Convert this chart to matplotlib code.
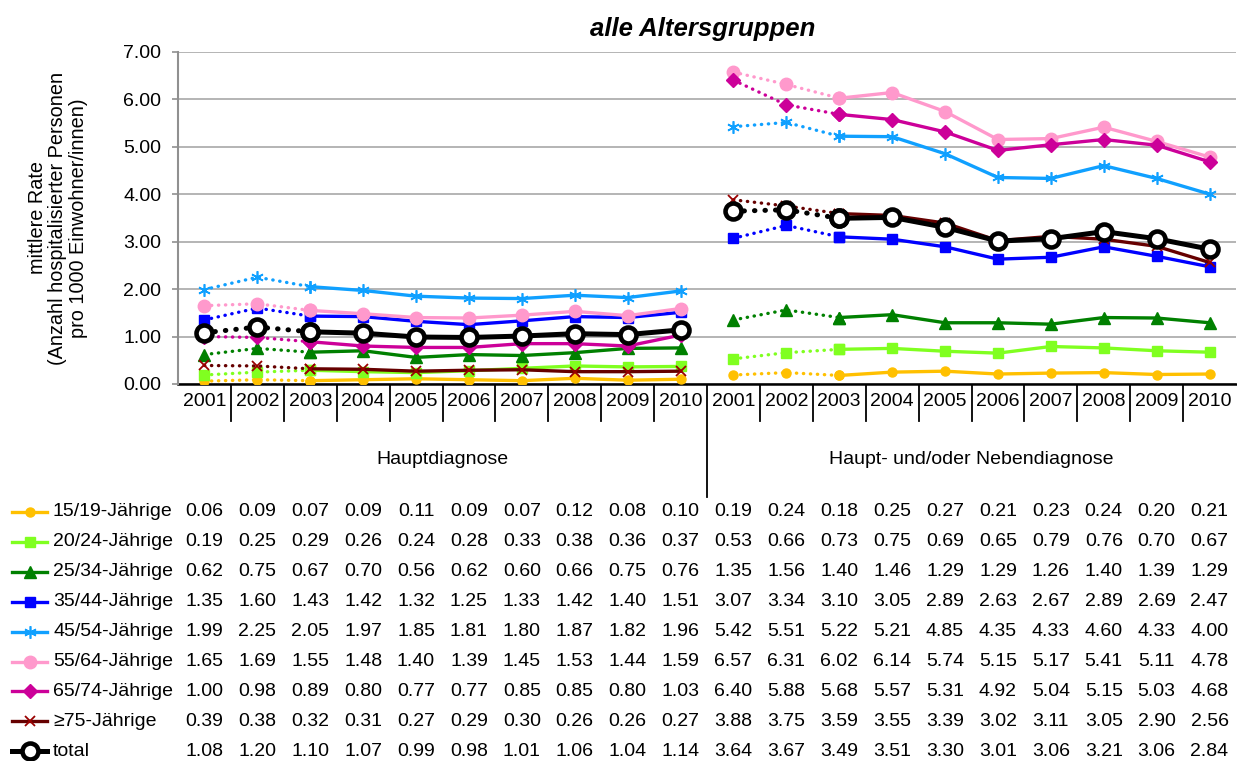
import matplotlib
matplotlib.use("Agg")
import matplotlib.pyplot as plt
import matplotlib.transforms as mtransforms
from matplotlib.lines import Line2D

plt.rcParams['font.family'] = ['Liberation Sans', 'DejaVu Sans']

# data
years = ['2001', '2002', '2003', '2004', '2005', '2006', '2007', '2008', '2009', '2010']
groups = ['Hauptdiagnose', 'Haupt- und/oder Nebendiagnose']
labels = ['15/19-Jährige', '20/24-Jährige', '25/34-Jährige', '35/44-Jährige',
          '45/54-Jährige', '55/64-Jährige', '65/74-Jährige', '≥75-Jährige', 'total']

# Hauptdiagnose
haupt = [
    [0.06, 0.09, 0.07, 0.09, 0.11, 0.09, 0.07, 0.12, 0.08, 0.10],
    [0.19, 0.25, 0.29, 0.26, 0.24, 0.28, 0.33, 0.38, 0.36, 0.37],
    [0.62, 0.75, 0.67, 0.70, 0.56, 0.62, 0.60, 0.66, 0.75, 0.76],
    [1.35, 1.60, 1.43, 1.42, 1.32, 1.25, 1.33, 1.42, 1.40, 1.51],
    [1.99, 2.25, 2.05, 1.97, 1.85, 1.81, 1.80, 1.87, 1.82, 1.96],
    [1.65, 1.69, 1.55, 1.48, 1.40, 1.39, 1.45, 1.53, 1.44, 1.59],
    [1.00, 0.98, 0.89, 0.80, 0.77, 0.77, 0.85, 0.85, 0.80, 1.03],
    [0.39, 0.38, 0.32, 0.31, 0.27, 0.29, 0.30, 0.26, 0.26, 0.27],
    [1.08, 1.20, 1.10, 1.07, 0.99, 0.98, 1.01, 1.06, 1.04, 1.14],
]
# Haupt- und/oder Nebendiagnose
neben = [
    [0.19, 0.24, 0.18, 0.25, 0.27, 0.21, 0.23, 0.24, 0.20, 0.21],
    [0.53, 0.66, 0.73, 0.75, 0.69, 0.65, 0.79, 0.76, 0.70, 0.67],
    [1.35, 1.56, 1.40, 1.46, 1.29, 1.29, 1.26, 1.40, 1.39, 1.29],
    [3.07, 3.34, 3.10, 3.05, 2.89, 2.63, 2.67, 2.89, 2.69, 2.47],
    [5.42, 5.51, 5.22, 5.21, 4.85, 4.35, 4.33, 4.60, 4.33, 4.00],
    [6.57, 6.31, 6.02, 6.14, 5.74, 5.15, 5.17, 5.41, 5.11, 4.78],
    [6.40, 5.88, 5.68, 5.57, 5.31, 4.92, 5.04, 5.15, 5.03, 4.68],
    [3.88, 3.75, 3.59, 3.55, 3.39, 3.02, 3.11, 3.05, 2.90, 2.56],
    [3.64, 3.67, 3.49, 3.51, 3.30, 3.01, 3.06, 3.21, 3.06, 2.84],
]

# styles per series
styles = [
    dict(color='#FFC000', marker='o', ms=6.5, lw=2.4, mfc='#FFC000', mec='#FFC000', mew=1),
    dict(color='#80FF20', marker='s', ms=6.5, lw=2.4, mfc='#80FF20', mec='#80FF20', mew=1),
    dict(color='#008000', marker='^', ms=8.5, lw=2.4, mfc='#008000', mec='#008000', mew=1),
    dict(color='#0000FF', marker='s', ms=6.5, lw=2.4, mfc='#0000FF', mec='#0000FF', mew=1),
    dict(color='#10A0FF', marker=(6, 2, 0), ms=9, lw=2.4, mfc='#10A0FF', mec='#10A0FF', mew=1.2),
    dict(color='#FF99CC', marker='o', ms=9, lw=2.4, mfc='#FF99CC', mec='#FF99CC', mew=1),
    dict(color='#CC0099', marker='D', ms=7, lw=2.4, mfc='#CC0099', mec='#CC0099', mew=1),
    dict(color='#660000', marker='x', ms=7.5, lw=2.4, mfc='#990000', mec='#990000', mew=1.3),
    dict(color='#000000', marker='o', ms=11.5, lw=3.6, mfc='white', mec='#000000', mew=3.3),
]

W, H = 1237, 761
fig = plt.figure(figsize=(W / 100, H / 100), dpi=100)
ax = fig.add_axes([178 / W, 1 - 384 / H, (1236 - 178) / W, (384 - 51.7) / H])

fs = 14
dotted = (0, (0.1, 2.0))

for i in range(len(labels)):
    st = styles[i]
    for g, data in enumerate([haupt, neben]):
        vals = data[i]
        xs = [g * 10 + k for k in range(10)]
        kw = dict(color=st['color'], lw=st['lw'], marker=st['marker'], ms=st['ms'],
                  mfc=st['mfc'], mec=st['mec'], mew=st['mew'], zorder=3 + i)
        ax.plot(xs[:3], vals[:3], ls=dotted, dash_capstyle='round', **kw)
        ax.plot(xs[2:], vals[2:], ls='-', solid_joinstyle='round', **kw)

ax.set_xlim(-0.5, 19.5)
ax.set_ylim(0, 7)
ax.set_yticks(range(8))
ax.set_yticklabels(['%.2f' % v for v in range(8)], fontsize=fs)
ax.set_xticks([])
ax.yaxis.grid(True, color='#A0A0A0', lw=1.1)
ax.set_axisbelow(True)
for s in ['top', 'right']:
    ax.spines[s].set_visible(False)
ax.spines['left'].set_color('#909090')
ax.spines['left'].set_linewidth(1.5)
ax.spines['bottom'].set_color('black')
ax.spines['bottom'].set_linewidth(1.8)
ax.spines['bottom'].set_zorder(2)
ax.tick_params(axis='y', length=4, width=1.2, color='#909090', pad=8)

def fy(px):
    return 1 - px / H

fig.text(58 / W, fy(218), 'mittlere Rate\n(Anzahl hospitalisierter Personen\npro 1000 Einwohner/innen)',
         fontsize=14.3, linespacing=1.12, rotation=90, ha='center', va='center',
         multialignment='center')

fig.text(703 / W, fy(29), 'alle Altersgruppen', fontsize=18.5, fontweight='bold',
         fontstyle='italic', ha='center', va='center')

trans = mtransforms.blended_transform_factory(ax.transData, fig.transFigure)

# category labels and separators
all_years = years + years
for k, yr in enumerate(all_years):
    ax.text(k, fy(401), yr, transform=trans, ha='center', va='center', fontsize=fs, clip_on=False)
for k in range(1, 20):
    if k == 10:
        continue
    ax.add_line(Line2D([k - 0.5, k - 0.5], [fy(385), fy(421)], transform=trans,
                       color='black', lw=1.3, clip_on=False))
ax.add_line(Line2D([9.5, 9.5], [fy(385), fy(497)], transform=trans,
                   color='black', lw=1.3, clip_on=False))

# group labels
for g, name in enumerate(groups):
    ax.text(g * 10 + 4.5, fy(459), name, transform=trans, ha='center', va='center',
            fontsize=fs, clip_on=False)

# data table with legend keys
for i, lab in enumerate(labels):
    ypx = 512 + i * 29.9
    st = styles[i]
    fig.add_artist(Line2D([12 / W, 30 / W, 47 / W], [fy(ypx)] * 3, color=st['color'],
                          lw=st['lw'], marker=st['marker'], ms=st['ms'], mfc=st['mfc'],
                          mec=st['mec'], mew=st['mew'], markevery=[1]))
    fig.text(53 / W, fy(ypx), lab, fontsize=fs, ha='left', va='center')
    row = haupt[i] + neben[i]
    for k, v in enumerate(row):
        ax.text(k, fy(ypx), '%.2f' % v, transform=trans, ha='center', va='center',
                fontsize=fs, clip_on=False)

fig.savefig('out.png', dpi=100)
